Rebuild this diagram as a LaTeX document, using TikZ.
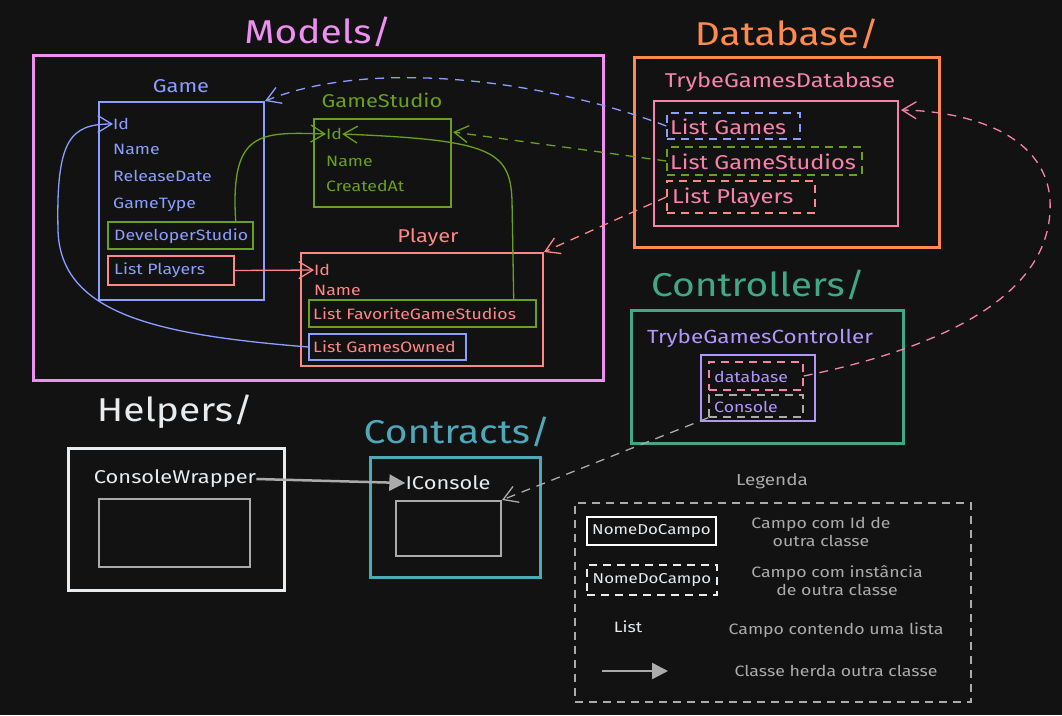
\documentclass[tikz,border=0pt]{standalone}
\usepackage{fontspec}
\setmainfont{Fira Sans}[FakeStretch=1.18]
\usetikzlibrary{arrows.meta,calc}
\definecolor{bgc}{HTML}{121212}
\definecolor{cmod}{HTML}{EE90F2}
\definecolor{cgame}{HTML}{8C9EFF}
\definecolor{cgs}{HTML}{6AA01C}
\definecolor{cpl}{HTML}{FF8787}
\definecolor{cdb}{HTML}{FF8A4C}
\definecolor{cdbi}{HTML}{F783AC}
\definecolor{cctl}{HTML}{40A884}
\definecolor{cpur}{HTML}{B197FC}
\definecolor{cwht}{HTML}{E9ECEF}
\definecolor{cgry}{HTML}{ABABAB}
\definecolor{cteal}{HTML}{4FA8BA}
\tikzset{
  frame/.style={draw, rectangle, inner sep=0pt, line width=3pt},
  cbox/.style={draw, rectangle, inner sep=0pt, line width=2pt},
  fbox/.style={draw, rectangle, inner sep=0pt, line width=1.4pt},
  dbox/.style={draw, rectangle, inner sep=0pt, line width=1.4pt, dash pattern=on 8pt off 6pt},
  ttl/.style={font=\fontsize{33}{36}\selectfont, inner sep=0pt},
  ctl/.style={font=\fontsize{18.5}{20}\selectfont, inner sep=0pt},
  fld/.style={font=\fontsize{15}{18}\selectfont, inner sep=0pt, anchor=west},
  big/.style={font=\fontsize{20}{22}\selectfont, inner sep=0pt, anchor=west},
  leg/.style={font=\fontsize{15}{18}\selectfont, inner sep=0pt, align=center},
  con/.style={line width=1.3pt, -{Straight Barb[length=14pt,width=17pt]}},
  dcon/.style={con, dash pattern=on 9pt off 7pt},
}
\begin{document}
\begin{tikzpicture}[x=1pt,y=-1pt]
\fill[bgc] (0,0) rectangle (1062,715);
\useasboundingbox (0,0) rectangle (1062,715);

% ---------- Models ----------
\node[ttl, cmod] (tmod) at (318,32) {Models/};
\node[frame, cmod, minimum width=570pt, minimum height=325pt] (fmod) at (318,217.5) {};

% Game
\node[ctl, cgame] (tgame) at (181,86) {Game};
\node[cbox, cgame, minimum width=165pt, minimum height=198pt] (gamebox) at (181.5,201) {};
\node[fld, cgame] (gid) at (113,124) {Id};
\node[fld, cgame] (gname) at (113,149) {Name};
\node[fld, cgame] (grel) at (113,176) {ReleaseDate};
\node[fld, cgame] (gtype) at (113,205) {GameType};
\node[fbox, cgs, minimum width=145pt, minimum height=27pt] (devbox) at (180.5,235.5) {};
\node[fld, cgame] (gdev) at (114,236) {DeveloperStudio};
\node[fbox, cpl, minimum width=126pt, minimum height=29pt] (lplbox) at (171,270.5) {};
\node[fld, cgame] (glpl) at (114,270) {List Players};

% GameStudio
\node[ctl, cgs] (tgs) at (382,100) {GameStudio};
\node[cbox, cgs, minimum width=137pt, minimum height=88pt] (gsbox) at (382.5,163) {};
\node[fld, cgs] (gsid) at (326,134) {Id};
\node[fld, cgs] (gsname) at (326,161) {Name};
\node[fld, cgs] (gscre) at (326,186) {CreatedAt};

% Player
\node[ctl, cpl] (tpl) at (428,238) {Player};
\node[cbox, cpl, minimum width=242pt, minimum height=113pt] (plbox) at (422,309.5) {};
\node[fld, cpl] (pid) at (314,270) {Id};
\node[fld, cpl] (pname) at (314,290) {Name};
\node[fbox, cgs, minimum width=227pt, minimum height=27pt] (favbox) at (422.5,313.5) {};
\node[fld, cpl] (pfav) at (313,314) {List FavoriteGameStudios};
\node[fbox, cgame, minimum width=157pt, minimum height=26pt] (ownbox) at (387.5,347) {};
\node[fld, cpl] (pown) at (313,347) {List GamesOwned};

% ---------- Database ----------
\node[ttl, cdb] (tdb) at (787,34) {Database/};
\node[frame, cdb, minimum width=305pt, minimum height=190pt] (fdb) at (786.5,152) {};
\node[ctl, cdbi, font=\fontsize{20}{22}\selectfont] (tdbc) at (780,82) {TrybeGamesDatabase};
\node[cbox, cdbi, minimum width=244pt, minimum height=125pt] (dbin) at (776,163.5) {};
\node[dbox, cgame, minimum width=133pt, minimum height=26pt] (lgames) at (733.5,126) {};
\node[big, cdbi] (tlgames) at (670,127) {List Games};
\node[dbox, cgs, minimum width=195pt, minimum height=28pt] (lgs) at (764.5,161) {};
\node[big, cdbi] (tlgs) at (670,162) {List GameStudios};
\node[dbox, cpl, minimum width=148pt, minimum height=32pt] (lpl) at (741,197) {};
\node[big, cdbi] (tlpl) at (672,198) {List Players};

% ---------- Controllers ----------
\node[ttl, cctl] (tctl) at (758,285) {Controllers/};
\node[frame, cctl, minimum width=272pt, minimum height=133pt] (fctl) at (767,376.5) {};
\node[ctl, cpur, font=\fontsize{19}{21}\selectfont] (tctlc) at (760,338) {TrybeGamesController};
\node[cbox, cpur, minimum width=114pt, minimum height=66pt] (ctlin) at (758,388) {};
\node[dbox, cdbi, minimum width=94pt, minimum height=28pt] (dbfld) at (756,376) {};
\node[fld, cpur] (tdbfld) at (714,377) {database};
\node[dbox, cgry, minimum width=94pt, minimum height=22pt] (confld) at (756,406) {};
\node[fld, cpur] (tconfld) at (714,407) {Console};

% ---------- Helpers ----------
\node[ttl, cwht] (thel) at (175,412) {Helpers/};
\node[frame, cwht, minimum width=216pt, minimum height=142pt] (fhel) at (176,519) {};
\node[ctl, cwht] (tcw) at (175,479) {ConsoleWrapper};
\node[cbox, cgry, minimum width=151pt, minimum height=68pt] (helin) at (174.5,533) {};

% ---------- Contracts ----------
\node[ttl, cteal] (tcon) at (457,432) {Contracts/};
\node[frame, cteal, minimum width=170pt, minimum height=120pt] (fcon) at (455,517) {};
\node[ctl, cwht] (tic) at (448,483) {IConsole};
\node[cbox, cgry, minimum width=105pt, minimum height=55pt] (conin) at (448.5,528.5) {};

% ---------- Legend ----------
\node[ctl, cgry, font=\fontsize{16}{18}\selectfont] (tleg) at (772,481) {Legenda};
\node[dbox, cgry, minimum width=396pt, minimum height=199pt] (fleg) at (773,602.5) {};
\node[fbox, cwht, double, double distance=1.2pt, line width=0.8pt, minimum width=129pt, minimum height=28pt, font=\fontsize{14.3}{16}\selectfont] (lb1) at (651.5,531) {NomeDoCampo};
\node[leg, cgry] (ld1) at (821,532) {Campo com Id de\\outra classe};
\node[dbox, cwht, minimum width=130pt, minimum height=30pt, font=\fontsize{14.3}{16}\selectfont] (lb2) at (652,580) {NomeDoCampo};
\node[leg, cgry] (ld2) at (837,581) {Campo com instância\\de outra classe};
\node[leg, cwht] (lb3) at (628,627) {List};
\node[leg, cgry] (ld3) at (836,630) {Campo contendo uma lista};
\coordinate (la1) at (602,671);
\coordinate (la2) at (668,671);
\draw[cgry, line width=2.5pt, -{Triangle[length=16pt,width=16pt]}] (la1) -- (la2);
\node[leg, cgry] (ld4) at (836,671) {Classe herda outra classe};

% ---------- Connectors ----------
% List Games -> Game
\draw[dcon, cgame] (lgames.west) .. controls (560,85) and (380,55) .. (gamebox.north east);
% List GameStudios -> GameStudio
\draw[dcon, cgs] (lgs.west) -- ($(gsbox.north east)+(1,14)$);
% List Players -> Player
\draw[dcon, cpl] (lpl.west) -- (plbox.north east);
% database -> TrybeGamesDatabase
\draw[dcon, cdbi] (dbfld.east) .. controls (930,350) and (1055,300) .. (1050,200)
  .. controls (1045,130) and (960,111) .. ($(dbin.north east)+(2,10)$);
% DeveloperStudio -> GameStudio.Id
\draw[con, cgs] ($(devbox.north east)+(-18,0)$) .. controls (230,130) and (260,132) .. (gsid.west);
% FavoriteGameStudios -> GameStudio.Id
\draw[con, cgs] ($(favbox.north east)+(-23,0)$) -- (512,200) .. controls (510,150) and (490,140) .. (gsid.east);
% List Players -> Player.Id
\draw[con, cpl] (lplbox.east) -- (pid.west);
% GamesOwned -> Game.Id
\draw[con, cgame] (ownbox.west) .. controls (160,335) and (60,315) .. (58,230)
  .. controls (56,140) and (70,124) .. (gid.west);
% ConsoleWrapper -> IConsole
\draw[cgry, line width=2.5pt, -{Triangle[length=16pt,width=16pt]}] (tcw.east) -- (tic.west);
% Console -> IConsole
\draw[dcon, cgry] (confld.south west) -- (conin.north east);
\end{tikzpicture}
\end{document}
